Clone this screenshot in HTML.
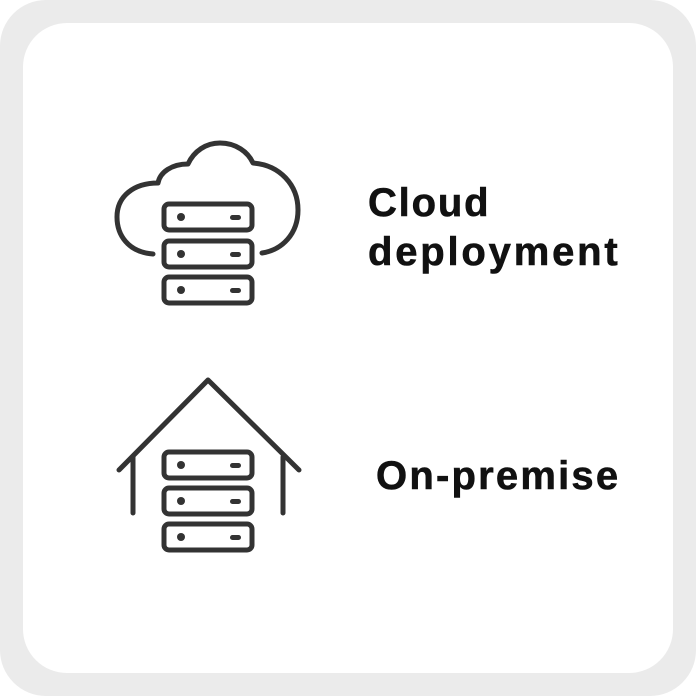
<!DOCTYPE html>
<html><head><style>
html,body{margin:0;padding:0;}
body{width:696px;height:696px;background:#fff;position:relative;overflow:hidden;font-family:"Liberation Sans",sans-serif;}
.outer{position:absolute;left:0;top:0;width:696px;height:696px;background:#ebebeb;border-radius:46px;}
.inner{position:absolute;left:23px;top:23px;width:650px;height:650px;background:#fff;border-radius:44px;}
.t{position:absolute;font-weight:bold;font-size:40px;color:#111;line-height:1;white-space:nowrap;-webkit-text-stroke:0.6px #111;}
</style></head><body>
<div class="outer"></div><div class="inner"></div>
<svg width="696" height="696" style="position:absolute;left:0;top:0" fill="none" stroke="#333" stroke-width="5" stroke-linecap="round" stroke-linejoin="round">
<path d="M153,254 C128,252 117,235 117,217 C117,196 134,183 158,183 C160,172 172,164 188,164 C194,151 206,143 220,143 C236,143 248,152 253,163 C280,165 298,185 298,210 C298,234 282,250 262,253"/>
<rect x="164" y="204" width="88" height="26" rx="5"/>
<rect x="164" y="241" width="88" height="26" rx="5"/>
<rect x="164" y="277" width="88" height="26" rx="5"/>
<g fill="#333" stroke="none">
<circle cx="181" cy="217" r="4"/><circle cx="181" cy="254" r="4"/><circle cx="181" cy="290" r="4"/>
<rect x="230" y="215" width="11" height="5" rx="2.5"/><rect x="230" y="252" width="11" height="5" rx="2.5"/><rect x="230" y="288" width="11" height="5" rx="2.5"/>
</g>
<path d="M119,470 L208,380 L299,470"/>
<path d="M133,457 L133,513 M283,457 L283,513"/>
<rect x="164" y="452" width="88" height="26" rx="5"/>
<rect x="164" y="488" width="88" height="26" rx="5"/>
<rect x="164" y="524" width="88" height="26" rx="5"/>
<g fill="#333" stroke="none">
<circle cx="181" cy="465" r="4"/><circle cx="181" cy="501" r="4"/><circle cx="181" cy="537" r="4"/>
<rect x="230" y="463" width="11" height="5" rx="2.5"/><rect x="230" y="499" width="11" height="5" rx="2.5"/><rect x="230" y="535" width="11" height="5" rx="2.5"/>
</g>
</svg>
<div class="t" style="left:368px;top:183px;letter-spacing:1.8px">Cloud</div>
<div class="t" style="left:368px;top:232px;letter-spacing:2.8px">deployment</div>
<div class="t" style="left:376px;top:456px;letter-spacing:2.2px">On-premise</div>
</body></html>
